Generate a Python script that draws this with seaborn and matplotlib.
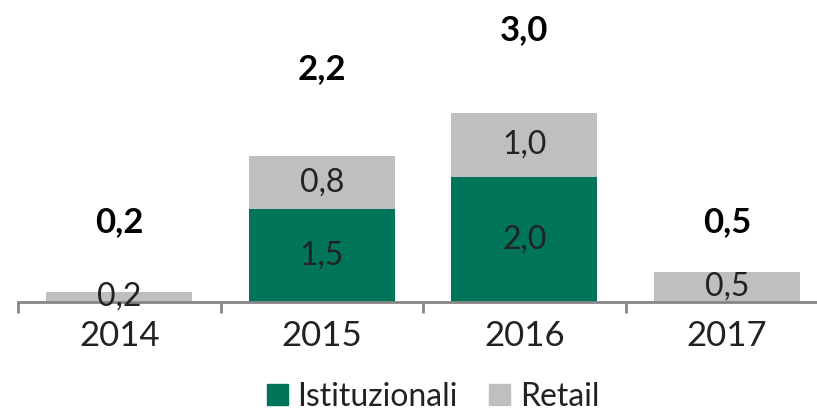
import matplotlib
matplotlib.use("Agg")
import matplotlib.pyplot as plt
import seaborn as sns
import pandas as pd
from matplotlib.patches import Patch

years = ["2014", "2015", "2016", "2017"]
istituzionali = [0.0, 1.48, 1.98, 0.0]
retail = [0.16, 0.83, 1.02, 0.48]
totals = [0.2, 2.2, 3.0, 0.5]

GREEN = "#00755A"
GRAY = "#BFBFBF"
AXIS = "#868686"

sns.set_theme(style="white")
plt.rcParams["font.family"] = ["Lato", "DejaVu Sans"]

df = pd.DataFrame({"year": years, "ist": istituzionali, "ret": retail})
df["stack"] = df["ist"] + df["ret"]

fig = plt.figure(figsize=(8.17, 4.13), dpi=100)
ax = fig.add_axes([18 / 817, 111 / 413, 810 / 817, 302 / 413])

sns.barplot(data=df, x="year", y="stack", color=GRAY, width=0.72,
            saturation=1, ax=ax, linewidth=0)
sns.barplot(data=df, x="year", y="ist", color=GREEN, width=0.72,
            saturation=1, ax=ax, linewidth=0)

ax.set_ylim(0, 4.79)
ax.set_xlim(-0.5, 3.5)

def fmt(v):
    return f"{v:.1f}".replace(".", ",")

for i in range(len(years)):
    if istituzionali[i] > 0:
        ax.text(i, istituzionali[i] / 2, fmt(istituzionali[i]), ha="center",
                va="center", fontsize=23, color="#222222")
    ax.text(i, istituzionali[i] + retail[i] / 2, fmt(retail[i]), ha="center",
            va="center", fontsize=23, color="#222222")

label_offsets_px = [70, 87, 83, 50]
for i in range(len(years)):
    top = istituzionali[i] + retail[i]
    ax.annotate(fmt(totals[i]), (i, top), xytext=(0, label_offsets_px[i] * 0.72),
                textcoords="offset points", ha="center", va="center",
                fontsize=25, fontweight="bold", color="black")

for s in ["top", "right", "left"]:
    ax.spines[s].set_visible(False)
ax.spines["bottom"].set_color(AXIS)
ax.spines["bottom"].set_linewidth(2)
ax.set_yticks([])
ax.set_xlabel("")
ax.set_ylabel("")
ax.set_xticks([-0.5, 0.5, 1.5, 2.5, 3.5], minor=False)
ax.set_xticklabels([])
ax.tick_params(axis="x", which="major", direction="out", length=8, width=2,
               color=AXIS, bottom=True)
ax.set_xticks(range(len(years)), minor=True)
ax.set_xticklabels(years, minor=True)
ax.tick_params(axis="x", which="minor", length=0, labelsize=25, pad=13,
               labelcolor="#222222")

handles = [Patch(color=GREEN, label="Istituzionali"), Patch(color=GRAY, label="Retail")]
fig.legend(handles=handles, loc="center", bbox_to_anchor=(0.53, 16 / 413), ncol=2,
           frameon=False, fontsize=23, handlelength=0.65, handleheight=0.65,
           handletextpad=0.3, columnspacing=1.0, labelcolor="#222222",
           borderpad=0.1)

fig.savefig("out.png", dpi=100)
